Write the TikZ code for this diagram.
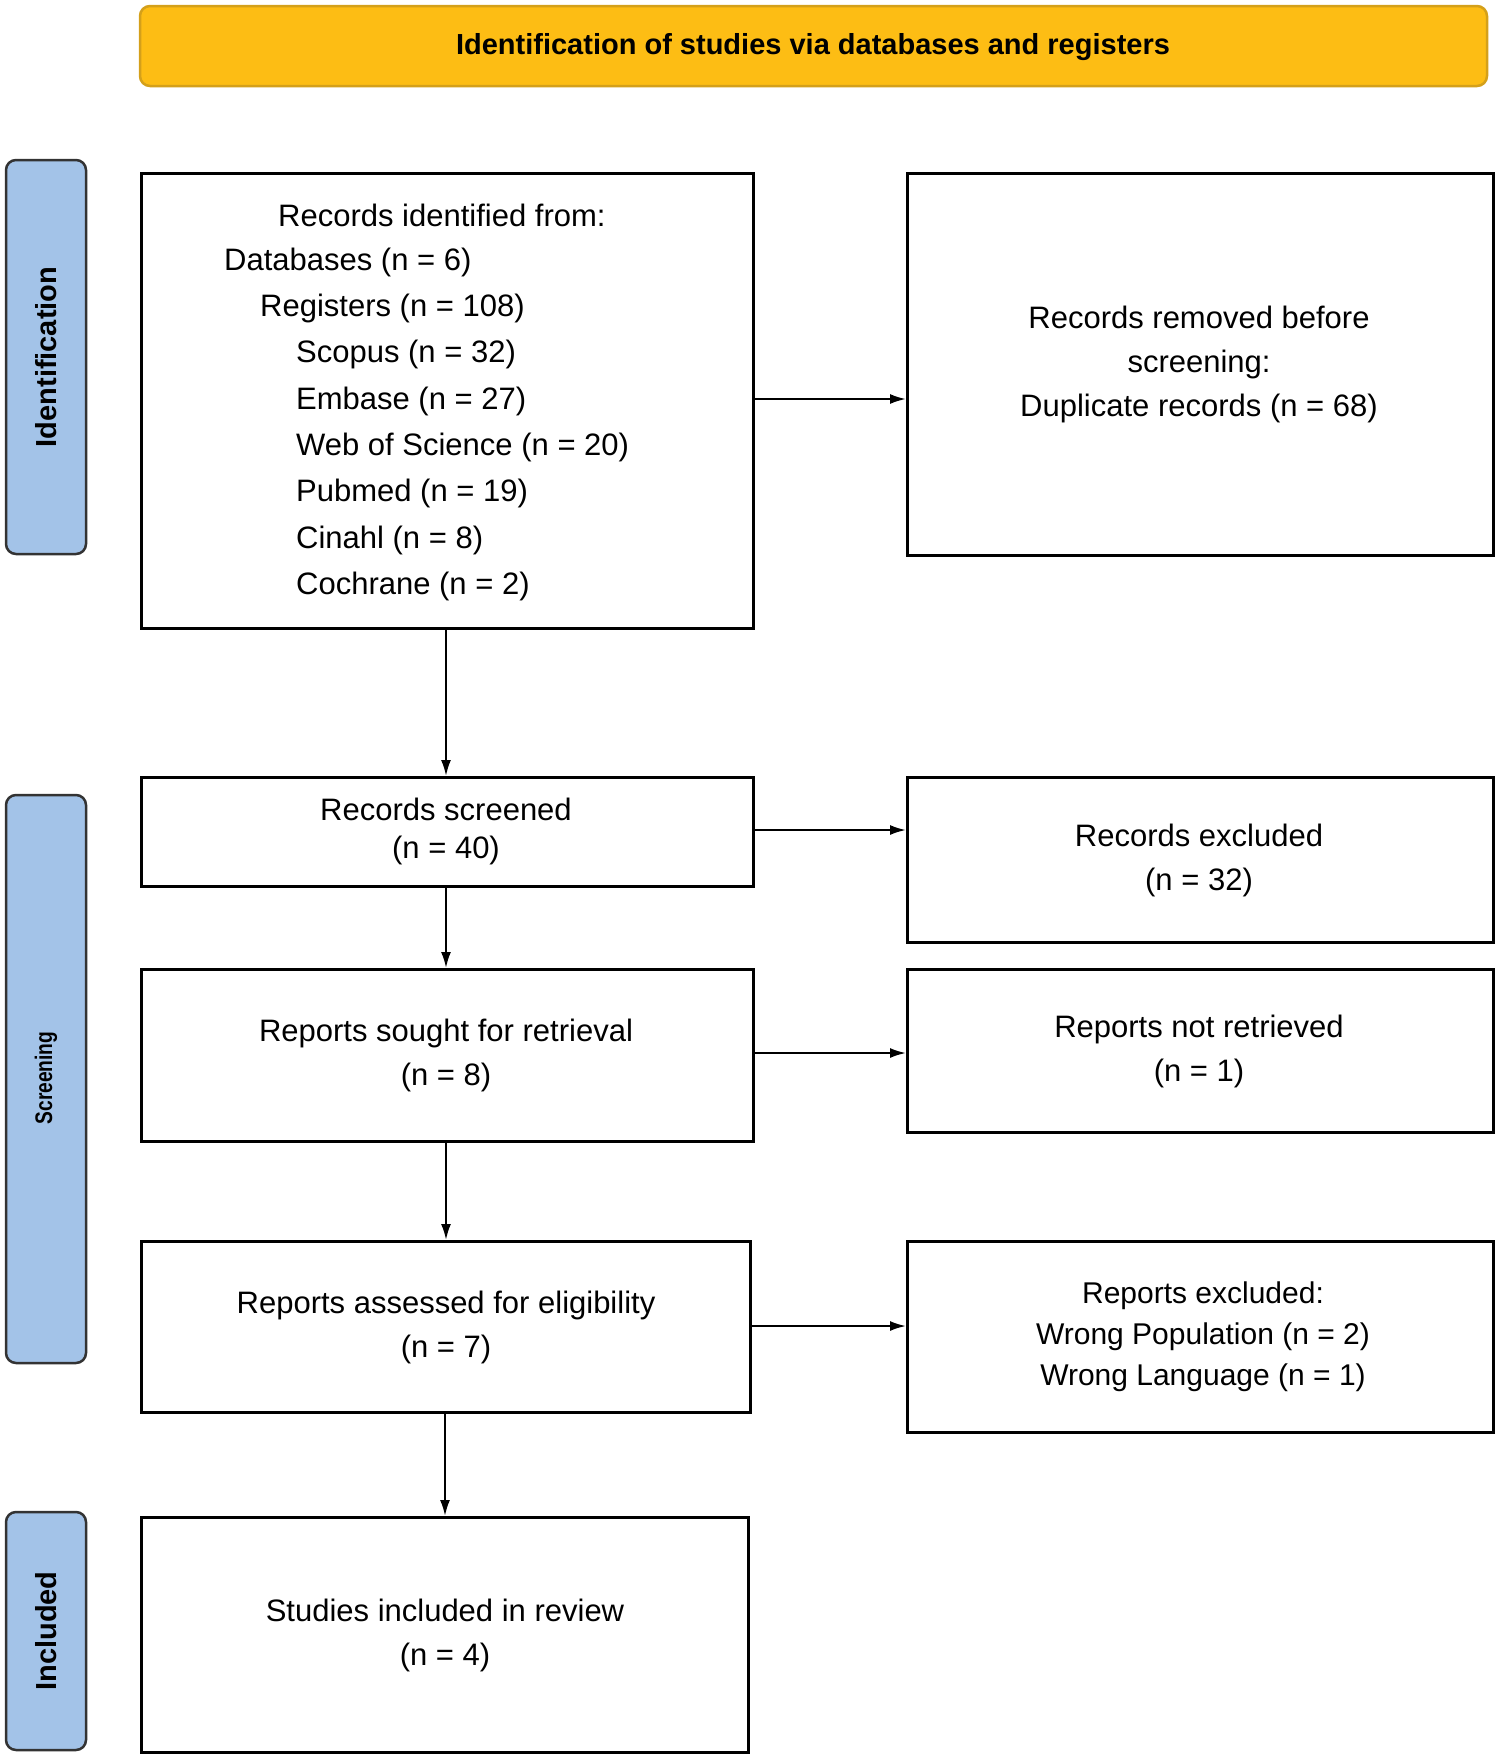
\documentclass[tikz,border=0pt]{standalone}
\usepackage{fontspec}
\setmainfont{Liberation Sans}
\usetikzlibrary{arrows.meta}
\definecolor{banner}{HTML}{FDBD14}
\definecolor{bannerline}{HTML}{D4A01A}
\definecolor{side}{HTML}{A3C3E8}
\begin{document}
\begin{tikzpicture}[x=1pt,y=-1pt,
  box/.style={draw=black,line width=2.5pt},
  txt/.style={font=\fontsize{31}{44}\selectfont,align=center,inner sep=0pt},
  ltxt/.style={font=\fontsize{31}{44}\selectfont,anchor=west,inner sep=0pt},
  sidel/.style={draw=black!80,line width=2.5pt,fill=side,rounded corners=10pt},
  arr/.style={-{Latex[length=16pt,width=10pt]},line width=2pt}]
\useasboundingbox (0,0) rectangle (1501,1764);
% banner
\draw[fill=banner,draw=bannerline,line width=2.5pt,rounded corners=10pt] (140,6) rectangle (1487,86);
\node[font=\fontsize{29}{34}\selectfont\bfseries] (ban) at (813,47) {Identification of studies via databases and registers};
% side labels
\draw[sidel] (6,160) rectangle (86,554);
\node[rotate=90,font=\fontsize{29}{34}\selectfont\bfseries] (sid) at (46,357) {Identification};
\draw[sidel] (6,795) rectangle (86,1363);
\node[rotate=90,font=\fontsize{24}{30}\selectfont\bfseries,xscale=0.8] (sscr) at (46,1078) {Screening};
\draw[sidel] (6,1512) rectangle (86,1750);
\node[rotate=90,font=\fontsize{29}{34}\selectfont\bfseries] (sinc) at (46,1631) {Included};
% boxes
\node[box,minimum width=612pt,minimum height=455pt,anchor=north west] (b1) at (140,172) {};
\node[box,minimum width=586pt,minimum height=382pt,anchor=north west] (r1) at (906,172) {};
\node[box,minimum width=612pt,minimum height=109pt,anchor=north west] (b2) at (140,776) {};
\node[box,minimum width=586pt,minimum height=165pt,anchor=north west] (r2) at (906,776) {};
\node[box,minimum width=612pt,minimum height=172pt,anchor=north west] (b3) at (140,968) {};
\node[box,minimum width=586pt,minimum height=163pt,anchor=north west] (r3) at (906,968) {};
\node[box,minimum width=609pt,minimum height=171pt,anchor=north west] (b4) at (140,1240) {};
\node[box,minimum width=586pt,minimum height=191pt,anchor=north west] (r4) at (906,1240) {};
\node[box,minimum width=607pt,minimum height=235pt,anchor=north west] (b5) at (140,1516) {};
% box 1 text
\node[ltxt] (t1) at (278,215) {Records identified from:};
\node[ltxt] (t2) at (224,262) {Databases (n = 6)};
\node[ltxt] (t3) at (260,308) {Registers (n = 108)};
\node[ltxt] (t4) at (296,354) {Scopus (n = 32)};
\node[ltxt] (t5) at (296,401) {Embase (n = 27)};
\node[ltxt] (t6) at (296,447) {Web of Science (n = 20)};
\node[ltxt] (t7) at (296,493) {Pubmed (n = 19)};
\node[ltxt] (t8) at (296,540) {Cinahl (n = 8)};
\node[ltxt] (t9) at (296,586) {Cochrane (n = 2)};
% other texts
\node[txt] (tr1) at (1199,364) {Records removed before\\screening:\\Duplicate records (n = 68)};
\node[txt,font=\fontsize{31}{38}\selectfont] (tb2) at (446,831) {Records screened\\(n = 40)};
\node[txt] (tr2) at (1199,860) {Records excluded\\(n = 32)};
\node[txt] (tb3) at (446,1055) {Reports sought for retrieval\\(n = 8)};
\node[txt] (tr3) at (1199,1051) {Reports not retrieved\\(n = 1)};
\node[txt] (tb4) at (446,1327) {Reports assessed for eligibility\\(n = 7)};
\node[txt,font=\fontsize{30}{41}\selectfont] (tr4) at (1203,1337) {Reports excluded:\\Wrong Population (n = 2)\\Wrong Language (n = 1)};
\node[txt] (tb5) at (445,1635) {Studies included in review\\(n = 4)};
% arrows
\draw[arr] (b1.east|-0,399) -- (r1.west|-0,399);
\draw[arr] (b2.east|-0,830) -- (r2.west|-0,830);
\draw[arr] (b3.east|-0,1053) -- (r3.west|-0,1053);
\draw[arr] (b4.east|-0,1326) -- (r4.west|-0,1326);
\draw[arr] (b1.south-|446,0) -- (b2.north-|446,0);
\draw[arr] (b2.south-|446,0) -- (b3.north-|446,0);
\draw[arr] (b3.south-|446,0) -- (b4.north-|446,0);
\draw[arr] (b4.south-|445,0) -- (b5.north-|445,0);
\end{tikzpicture}
\end{document}
